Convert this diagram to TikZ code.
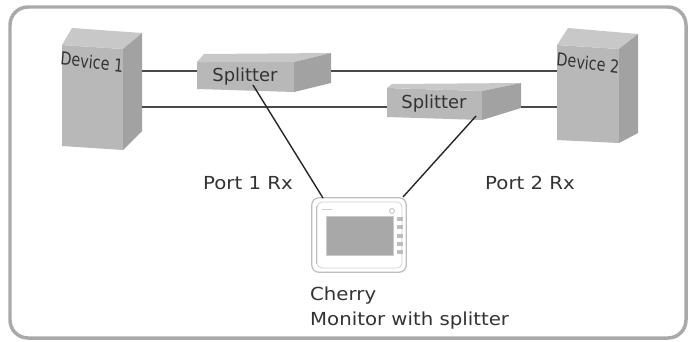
\documentclass[tikz,border=0pt]{standalone}
\usepackage{fontspec}
\setmainfont{DejaVu Sans}
\begin{document}
\definecolor{frame}{HTML}{A9A9A9}
\definecolor{cubefront}{HTML}{B8B8B8}
\definecolor{cubetop}{HTML}{C8C8C8}
\definecolor{cubeside}{HTML}{A2A2A2}
\definecolor{wire}{HTML}{4A4A4A}
\definecolor{ink}{HTML}{333333}
\definecolor{screen}{HTML}{A8A8A8}
\definecolor{bezel}{HTML}{BDBDBD}
\begin{tikzpicture}[x=1bp,y=-1bp,
  front/.style={fill=cubefront},
  top/.style={fill=cubetop},
  side/.style={fill=cubeside},
  anchorbox/.style={inner sep=0pt,minimum size=0pt},
  wireline/.style={draw=wire,line width=2pt},
  tap/.style={draw=black!85,line width=1.4pt},
  lbl/.style={text=ink,font=\fontsize{18}{21}\selectfont,inner sep=0pt},
  devlbl/.style={lbl,xscale=0.8,rotate=-6},
  caption/.style={lbl,anchor=west,xscale=1.1}]
\useasboundingbox (0,0) rectangle (693,341);
\fill[white] (0,0) rectangle (693,341);
% outer frame
\draw[frame,line width=3.5pt,rounded corners=18bp] (10,7) rectangle (686,338);

% Device 1
\path[front] (62,45) -- (123,49) -- (123,150) -- (62,146) -- cycle;
\path[top] (62,45) -- (72,28) -- (142,33) -- (123,49) -- cycle;
\path[side] (123,49) -- (142,33) -- (142,131) -- (123,150) -- cycle;
\node[devlbl] (dev1lbl) at (92,62) {Device 1};
% Device 2
\path[front] (557,45) -- (619,49) -- (619,143) -- (557,140) -- cycle;
\path[top] (557,45) -- (568,28) -- (638,34) -- (619,49) -- cycle;
\path[side] (619,49) -- (638,34) -- (638,133) -- (619,143) -- cycle;
\node[devlbl] (dev2lbl) at (588,63) {Device 2};
% Splitter 1
\path[front] (197,62) -- (294,62) -- (294,92) -- (197,89) -- cycle;
\path[top] (197,62) -- (204,54) -- (331,53) -- (294,62) -- cycle;
\path[side] (294,62) -- (331,53) -- (331,83) -- (294,92) -- cycle;
\node[lbl] (spl1) at (245,77) {Splitter};
% Splitter 2
\path[front] (387,88) -- (482,91) -- (482,120) -- (387,117) -- cycle;
\path[top] (387,88) -- (392,84) -- (521,83) -- (482,91) -- cycle;
\path[side] (482,91) -- (521,83) -- (521,108) -- (482,120) -- cycle;
\node[lbl] (spl2) at (434,104) {Splitter};

% port points on the boxes
\coordinate (d1a) at (142,71);
\coordinate (d1b) at (142,107);
\coordinate (d2a) at (557,71);
\coordinate (d2b) at (557,107);
\coordinate (s1in) at (197,71);
\coordinate (s1out) at (331,71);
\coordinate (s2in) at (387,107);
\coordinate (s2out) at (521,107);
\coordinate (s1tap) at (253,85);
\coordinate (s2tap) at (476,116);

% Monitor
\node[anchorbox,minimum width=94bp,minimum height=74bp] (mon) at (359,235) {};
\draw[bezel,line width=1.2pt,fill=white,rounded corners=7bp] (mon.north west) rectangle (mon.south east);
\draw[bezel!70,line width=0.8pt,rounded corners=5bp] (317,202) rectangle (402,268);
\draw[bezel,line width=0.8pt] (316,206) -- (316,264);
\fill[screen] (326,216) rectangle (393,255);
\draw[bezel!80,line width=0.6pt] (326,216) rectangle (393,255);
\foreach \yb in {219,227,236,244,252}
  \fill[bezel] (397,\yb-2) rectangle (403,\yb+2);
\draw[bezel,line width=0.8pt] (392,211) circle (2.5bp);
\draw[bezel!70,line width=0.6pt] (322,209) -- (332,209);
\coordinate (montl) at (323,198);
\coordinate (montr) at (403,197);

% connectors
\draw[wireline] (d1a) -- (s1in);
\draw[wireline] (s1out) -- (d2a);
\draw[wireline] (d1b) -- (s2in);
\draw[wireline] (s2out) -- (d2b);
\draw[tap] (s1tap) -- (montl);
\draw[tap] (s2tap) -- (montr);

% labels
\node[caption] (p1) at (203,183) {Port 1 Rx};
\node[caption] (p2) at (485,183) {Port 2 Rx};
\node[caption] (cherry) at (310,296) {Cherry};
\node[caption] (monlbl) at (310,321) {Monitor with splitter};
\end{tikzpicture}
\end{document}
